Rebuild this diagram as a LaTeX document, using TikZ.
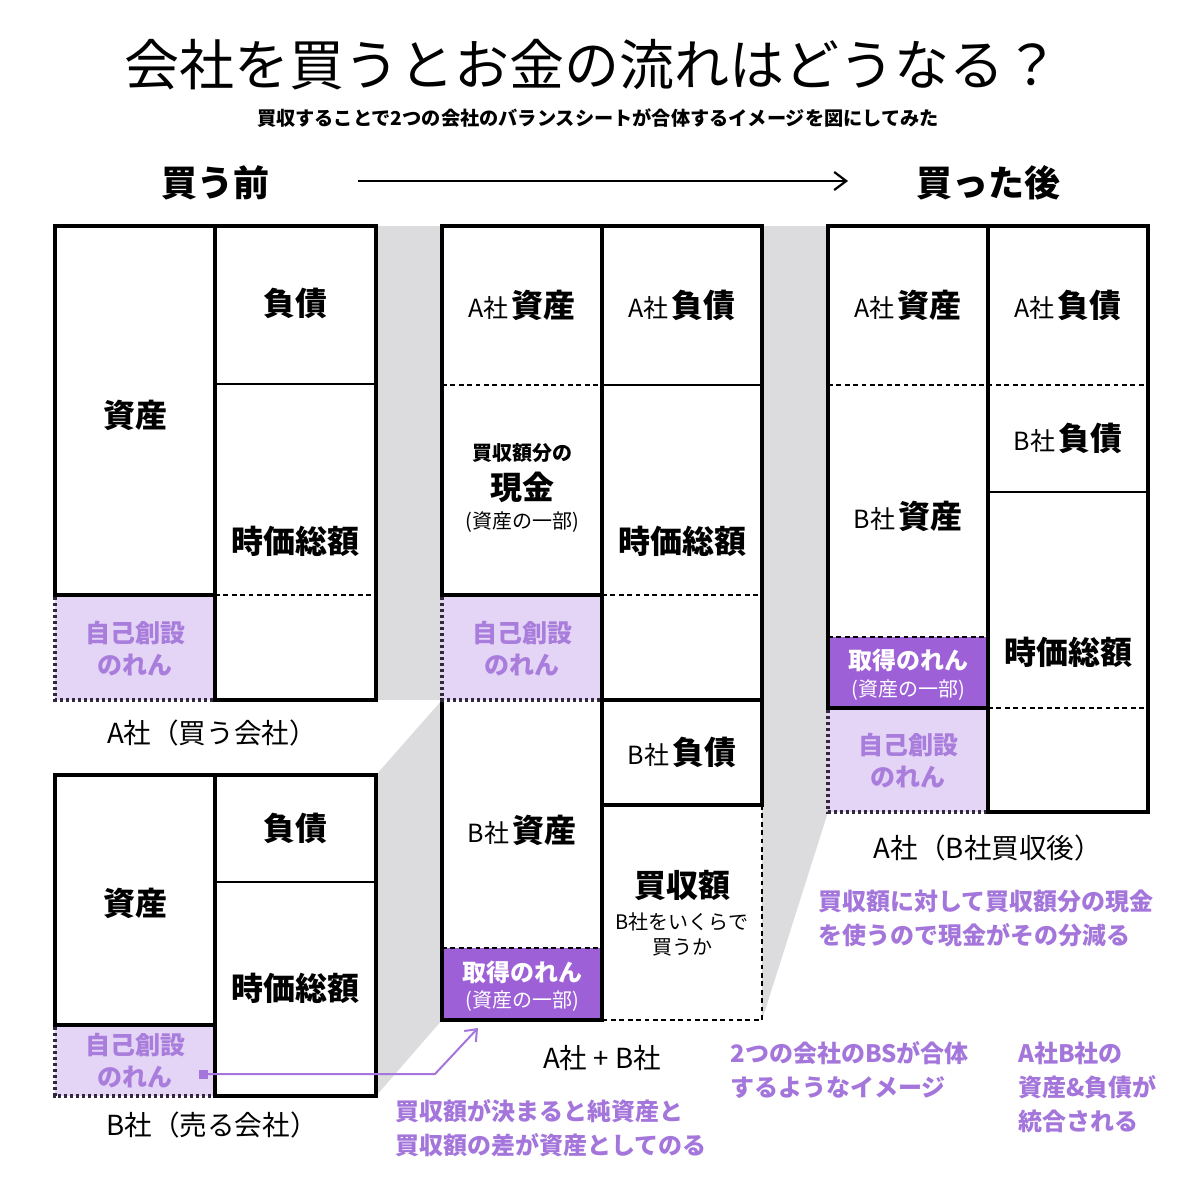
\documentclass[tikz,border=0pt]{standalone}
\usepackage{fontspec}
\setmainfont{Noto Sans CJK JP}
\usetikzlibrary{arrows.meta}
\definecolor{gry}{HTML}{DCDCDE}
\definecolor{lpur}{HTML}{E4D4F5}
\definecolor{dpur}{HTML}{9D60D6}
\definecolor{ptxt}{HTML}{A476DB}
\definecolor{ltxt}{HTML}{A97DDC}
\definecolor{dotc}{HTML}{34283F}
\newcommand{\fsz}[2]{\fontsize{#1}{#2}\selectfont}
\tikzset{
  thickln/.style={line width=1.8pt, line cap=rect},
  thinln/.style={line width=0.8pt},
  dashln/.style={line width=0.8pt, dash pattern=on 2.4pt off 1.8pt},
  dotln/.style={line width=2pt, dotc, dash pattern=on 1.6pt off 1.4pt},
  big/.style={font=\bfseries\fsz{16}{19}, inner sep=0pt},
  gw/.style={font=\bfseries\fsz{12.5}{16}, text=ltxt, align=center, inner sep=0pt},
  acq/.style={text=white, align=center, inner sep=0pt},
  lbl/.style={font=\fsz{13.8}{16}, inner sep=0pt},
  note/.style={font=\bfseries\fsz{12}{17}, text=ptxt, align=left, anchor=west, inner sep=0pt},
  hdr/.style={font=\bfseries\fsz{18}{21}, inner sep=0pt},
  paren/.style={inner sep=0pt, font=\fsz{10}{12}},
}
\begin{document}
\begin{tikzpicture}[x=0.5pt,y=-0.5pt]
\fill[white] (0,0) rectangle (1200,1200);
\useasboundingbox (0,0) rectangle (1200,1200);

% title
\node[font=\fsz{27.5}{32}, inner sep=0pt] (title) at (592,65) {会社を買うとお金の流れはどうなる？};
\node[font=\bfseries\fsz{9.6}{12}, inner sep=0pt] (sub) at (598,118) {買収することで2つの会社のバランスシートが合体するイメージを図にしてみた};

% headers
\node[hdr] (before) at (215,183) {買う前};
\node[hdr] (after) at (988,183) {買った後};
\coordinate (arS) at (358,181);
\coordinate (arE) at (848,181);
\draw[line width=1.1pt, -{Straight Barb[length=6pt,width=9pt]}] (arS) -- (arE);

% grey connections
\fill[gry] (376,226) -- (442,226) -- (442,700) -- (376,700) -- cycle;
\fill[gry] (376,775) -- (442,700) -- (442,1020) -- (376,1096) -- cycle;
\fill[gry] (762,226) -- (828,226) -- (828,812) -- (762,1020) -- cycle;

% ===== A社 (before) =====
\fill[lpur] (55,595) rectangle (215,700);
\draw[thickln] (55,595) -- (55,226) -- (376,226) -- (376,700) -- (215,700) -- (215,226);
\draw[thickln] (55,595) -- (215,595);
\draw[thinln] (215,384) -- (376,384);
\draw[dashln] (215,595) -- (376,595);
\draw[dotln] (55,597) -- (55,700) -- (213,700);
\node[big] (aA) at (135,415) {資産};
\node[big] (aL) at (295,303) {負債};
\node[big] (aE) at (295,541) {時価総額};
\node[gw] (aG) at (135,649) {自己創設\\のれん};
\node[lbl] (aLab) at (212,733) {A社（買う会社）};

% ===== B社 (before) =====
\fill[lpur] (55,1025) rectangle (215,1096);
\draw[thickln] (55,1025) -- (55,775) -- (376,775) -- (376,1096) -- (215,1096) -- (215,775);
\draw[thickln] (55,1025) -- (215,1025);
\draw[thinln] (215,882) -- (376,882);
\draw[dotln] (55,1027) -- (55,1096) -- (213,1096);
\node[big] (bA) at (135,903) {資産};
\node[big] (bL) at (295,828) {負債};
\node[big] (bE) at (295,988) {時価総額};
\node[gw] (bG) at (135,1061) {自己創設\\のれん};
\node[lbl] (bLab) at (212,1125) {B社（売る会社）};

% ===== middle (A+B) =====
\fill[lpur] (442,595) rectangle (602,700);
\fill[dpur] (442,948) rectangle (602,1020);
\draw[thickln] (442,595) -- (442,226) -- (762,226) -- (762,805) -- (602,805);
\draw[thickln] (602,226) -- (602,1020);
\draw[thickln] (442,595) -- (602,595);
\draw[thickln] (602,700) -- (762,700);
\draw[thickln] (442,700) -- (442,1020) -- (602,1020);
\draw[dashln] (442,385) -- (602,385);
\draw[thinln] (602,385) -- (762,385);
\draw[dashln] (602,595) -- (762,595);
\draw[dashln] (442,948) -- (602,948);
\draw[dashln] (762,805) -- (762,1020) -- (602,1020);
\draw[dotln] (442,597) -- (442,700) -- (600,700);
\node (mAA) at (522,305) {{\fsz{12.5}{14}A社}\,{\bfseries\fsz{16}{19}資産}};
\node (mAL) at (682,305) {{\fsz{12.5}{14}A社}\,{\bfseries\fsz{16}{19}負債}};
\node[inner sep=0pt, font=\bfseries\fsz{10}{12}] (mC1) at (522,453) {買収額分の};
\node[big] (mC2) at (522,487) {現金};
\node[paren] (mC3) at (522,522) {(資産の一部)};
\node[big] (mE) at (682,541) {時価総額};
\node[gw] (mG) at (522,649) {自己創設\\のれん};
\node (mBA) at (522,830) {{\fsz{12.5}{14}B社}\,{\bfseries\fsz{16}{19}資産}};
\node (mBL) at (682,752) {{\fsz{12.5}{14}B社}\,{\bfseries\fsz{16}{19}負債}};
\node[acq, font=\bfseries\fsz{12}{14}] (mQ1) at (522,972) {取得のれん};
\node[acq, paren] (mQ2) at (522,1001) {(資産の一部)};
\node[big] (mP) at (682,885) {買収額};
\node[inner sep=0pt, font=\fsz{10}{12.5}, align=center] (mP2) at (682,934) {B社をいくらで\\買うか};
\node[lbl] (mLab) at (602,1058) {A社 + B社};

% ===== right (after) =====
\fill[dpur] (828,637) rectangle (988,708);
\fill[lpur] (828,708) rectangle (988,812);
\draw[thickln] (828,708) -- (828,226) -- (1148,226) -- (1148,812) -- (988,812) -- (988,226);
\draw[thickln] (828,708) -- (988,708);
\draw[dashln] (828,385) -- (1148,385);
\draw[dashln] (828,637) -- (988,637);
\draw[dashln] (988,708) -- (1148,708);
\draw[thinln] (988,492) -- (1148,492);
\draw[dotln] (828,710) -- (828,812) -- (986,812);
\node (rAA) at (908,305) {{\fsz{12.5}{14}A社}\,{\bfseries\fsz{16}{19}資産}};
\node (rAL) at (1068,305) {{\fsz{12.5}{14}A社}\,{\bfseries\fsz{16}{19}負債}};
\node (rBL) at (1068,438) {{\fsz{12.5}{14}B社}\,{\bfseries\fsz{16}{19}負債}};
\node (rBA) at (908,516) {{\fsz{12.5}{14}B社}\,{\bfseries\fsz{16}{19}資産}};
\node[big] (rE) at (1068,652) {時価総額};
\node[acq, font=\bfseries\fsz{12}{14}] (rQ1) at (908,660) {取得のれん};
\node[acq, paren] (rQ2) at (908,690) {(資産の一部)};
\node[gw] (rG) at (908,761) {自己創設\\のれん};
\node[lbl] (rLab) at (988,848) {A社（B社買収後）};

% ===== notes =====
\node[note] (n1) at (818,918) {買収額に対して買収額分の現金\\を使うので現金がその分減る};
\node[note] (n2) at (730,1070) {2つの会社のBSが合体\\するようなイメージ};
\node[note] (n3) at (1018,1087) {A社B社の\\資産\&負債が\\統合される};
\node[note] (n4) at (395,1128) {買収額が決まると純資産と\\買収額の差が資産としてのる};

% ===== arrow from B goodwill to acquired goodwill =====
\node[fill=ptxt, minimum size=4.5pt, inner sep=0pt] (sq) at (203,1074) {};
\coordinate (bend) at (435,1074);
\coordinate (tip) at (478,1028);
\draw[ptxt, line width=1pt, -{Straight Barb[length=5pt,width=8pt]}] (sq.center) -- (bend) -- (tip);
\end{tikzpicture}
\end{document}
